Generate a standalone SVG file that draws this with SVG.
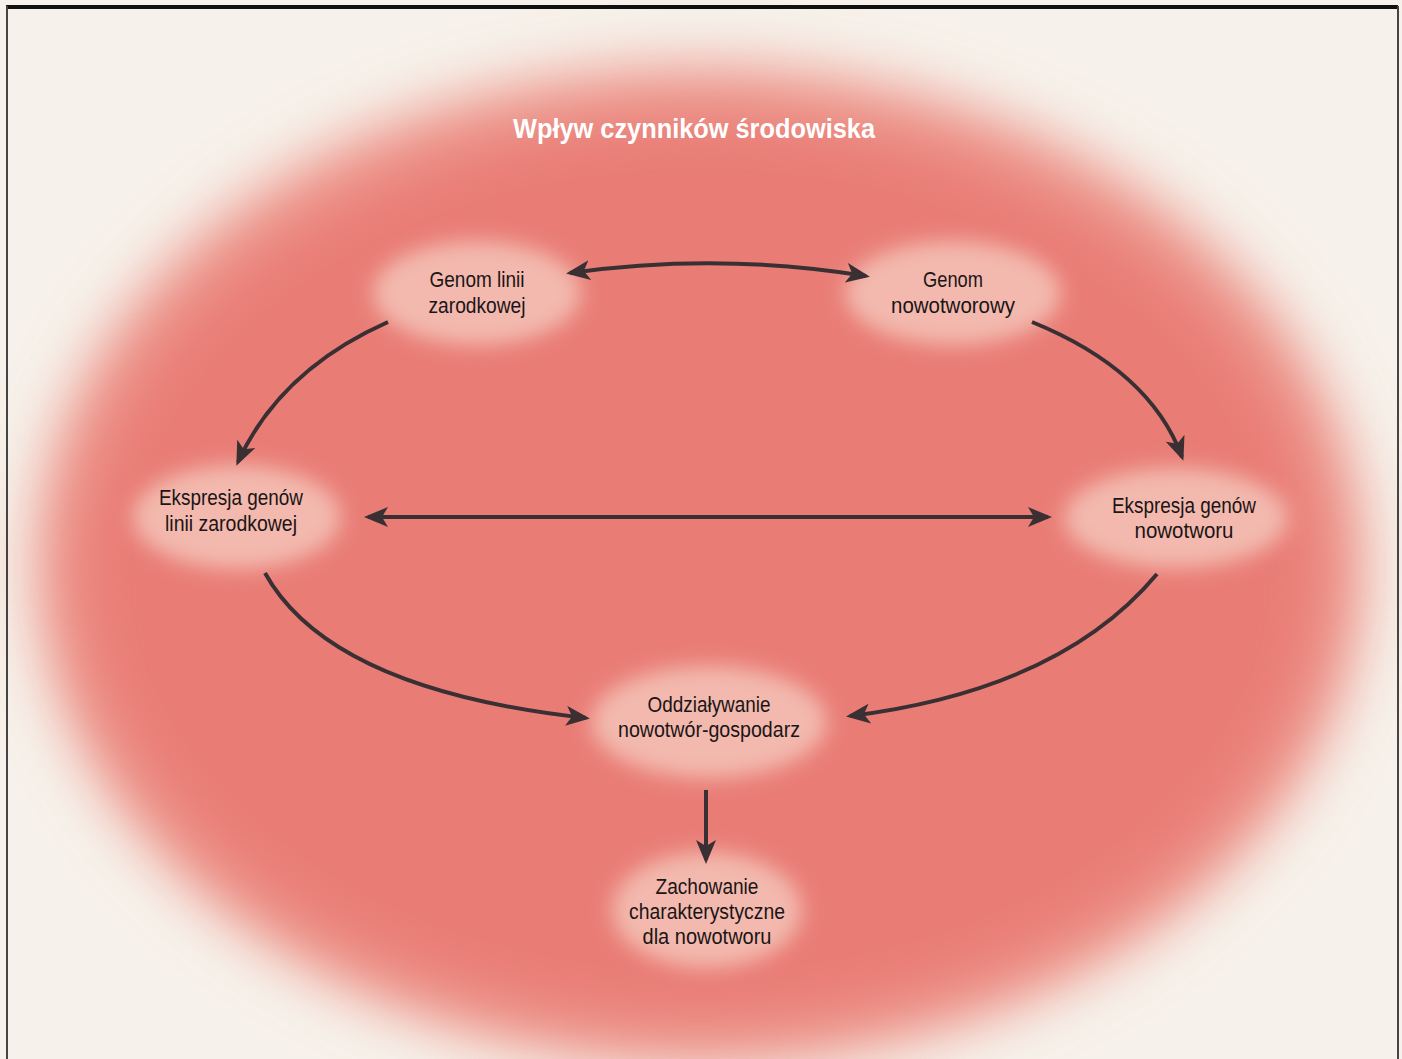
<svg xmlns="http://www.w3.org/2000/svg" width="1402" height="1059" viewBox="0 0 1402 1059">
<defs>
<filter id="bigblur" x="-20%" y="-20%" width="140%" height="140%"><feGaussianBlur stdDeviation="28"/></filter>
<filter id="nodeblur" x="-40%" y="-40%" width="180%" height="180%"><feGaussianBlur stdDeviation="10"/></filter>
<marker id="ah" viewBox="0 0 12 10" refX="10" refY="5" markerWidth="6" markerHeight="5" orient="auto-start-reverse" markerUnits="strokeWidth">
<path d="M0,0 L12,5 L0,10 L3,5 z" fill="#3a3034"/>
</marker>
</defs>
<style>
.lbl{font-family:"Liberation Sans",Arial,sans-serif;font-size:22px;fill:#1b1516;text-anchor:middle}
.title{font-family:"Liberation Sans",Arial,sans-serif;font-size:27px;font-weight:bold;fill:#ffffff;text-anchor:middle}
.conn{fill:none;stroke:#3a3034;stroke-width:4;marker-end:url(#ah)}
.dbl{marker-start:url(#ah)}
.blob{fill:#f3b9ae;filter:url(#nodeblur)}
</style>
<rect x="0" y="0" width="1402" height="1059" fill="#f6f1ea"/>
<g id="background">
<ellipse cx="700" cy="565" rx="665" ry="500" fill="#ee9c92" filter="url(#bigblur)"/>
<ellipse cx="700" cy="570" rx="625" ry="455" fill="#e97d76" filter="url(#bigblur)"/>
</g>
<line x1="6" y1="7" x2="1398" y2="7" stroke="#111" stroke-width="4"/>
<line x1="7" y1="6" x2="7" y2="1059" stroke="#444" stroke-width="2"/>
<line x1="1398" y1="6" x2="1398" y2="1059" stroke="#444" stroke-width="2"/>
<text class="title" x="694" y="138" textLength="362" lengthAdjust="spacingAndGlyphs">Wpływ czynników środowiska</text>
<g id="node-genom-linii">
<ellipse class="blob" cx="477" cy="293" rx="104" ry="52"/>
<text class="lbl" x="477" y="287" textLength="95" lengthAdjust="spacingAndGlyphs">Genom linii</text>
<text class="lbl" x="477" y="313" textLength="97" lengthAdjust="spacingAndGlyphs">zarodkowej</text>
</g>
<g id="node-genom-nowotworowy">
<ellipse class="blob" cx="953" cy="293" rx="108" ry="52"/>
<text class="lbl" x="953" y="287" textLength="60" lengthAdjust="spacingAndGlyphs">Genom</text>
<text class="lbl" x="953" y="313" textLength="124" lengthAdjust="spacingAndGlyphs">nowotworowy</text>
</g>
<g id="node-ekspresja-linii">
<ellipse class="blob" cx="237" cy="517" rx="104" ry="52"/>
<text class="lbl" x="231" y="505" textLength="144" lengthAdjust="spacingAndGlyphs">Ekspresja genów</text>
<text class="lbl" x="231" y="531" textLength="132" lengthAdjust="spacingAndGlyphs">linii zarodkowej</text>
</g>
<g id="node-ekspresja-nowotworu">
<ellipse class="blob" cx="1176" cy="518" rx="112" ry="50"/>
<text class="lbl" x="1184" y="513" textLength="144" lengthAdjust="spacingAndGlyphs">Ekspresja genów</text>
<text class="lbl" x="1184" y="538" textLength="99" lengthAdjust="spacingAndGlyphs">nowotworu</text>
</g>
<g id="node-oddzialywanie">
<ellipse class="blob" cx="709" cy="722" rx="118" ry="56"/>
<text class="lbl" x="709" y="712" textLength="123" lengthAdjust="spacingAndGlyphs">Oddziaływanie</text>
<text class="lbl" x="709" y="737" textLength="182" lengthAdjust="spacingAndGlyphs">nowotwór-gospodarz</text>
</g>
<g id="node-zachowanie">
<ellipse class="blob" cx="707" cy="910" rx="95" ry="58"/>
<text class="lbl" x="707" y="894" textLength="103" lengthAdjust="spacingAndGlyphs">Zachowanie</text>
<text class="lbl" x="707" y="919" textLength="156" lengthAdjust="spacingAndGlyphs">charakterystyczne</text>
<text class="lbl" x="707" y="944" textLength="129" lengthAdjust="spacingAndGlyphs">dla nowotworu</text>
</g>
<g id="connectors">
<path class="conn dbl" d="M570,273 Q718,252 866,276"/>
<path class="conn" d="M388,322 Q280,370 238,462"/>
<path class="conn" d="M1032,322 Q1150,370 1182,457"/>
<path class="conn dbl" d="M368,517 L1048,517"/>
<path class="conn" d="M265,573 Q330,690 586,718"/>
<path class="conn" d="M1157,574 Q1060,690 850,716"/>
<path class="conn" d="M706,790 L706,860"/>
</g>
</svg>
